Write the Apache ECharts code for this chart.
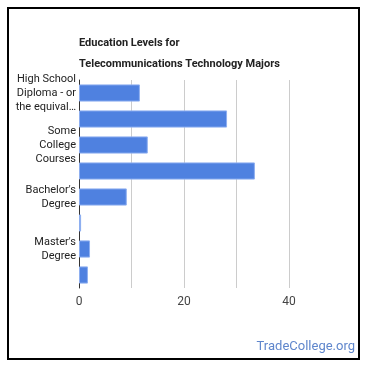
<!DOCTYPE html>
<html>
<head>
<meta charset="utf-8">
<script src="https://cdn.jsdelivr.net/npm/echarts@6/dist/echarts.min.js"></script>
<style>html,body{margin:0;padding:0;background:#fff;}#c{width:370px;height:370px;}</style>
</head>
<body>
<div id="c"></div>
<script>
const titleLines = ["Education Levels for", "Telecommunications Technology Majors"];
const categories = ["High School\nDiploma - or\nthe equival…", "", "Some\nCollege\nCourses", "", "Bachelor's\nDegree", "", "Master's\nDegree", ""];
const values = [11.6, 28.2, 13.1, 33.5, 9.1, 0.4, 2.1, 1.7];
const xTicks = [0, 20, 40];
const watermark = "TradeCollege.org";

const chart = echarts.init(document.getElementById('c'), null, {renderer: 'canvas'});
chart.setOption({
  animation: false,
  backgroundColor: '#fff',
  title: {
    text: titleLines.join('\n'),
    left: 79, top: 33, padding: 0,
    textStyle: {fontFamily: 'Roboto', fontSize: 11, fontWeight: 'bold', color: '#222', lineHeight: 21}
  },
  grid: {left: 79, right: 81, top: 80, bottom: 82, containLabel: false},
  xAxis: {
    type: 'value', min: 0, max: 40, interval: 10,
    axisLine: {show: false}, axisTick: {show: false},
    splitLine: {show: true, lineStyle: {color: '#cccccc', width: 1}},
    axisLabel: {
      color: '#444', fontFamily: 'Roboto', fontSize: 12, margin: 8,
      formatter: v => xTicks.includes(v) ? String(v) : ''
    }
  },
  yAxis: {
    type: 'category', inverse: true,
    data: categories.map((c, i) => String(i)),
    axisLine: {show: true, lineStyle: {color: '#333', width: 1}},
    axisTick: {show: false},
    axisLabel: {
      color: '#222', fontFamily: 'Roboto', fontSize: 11, lineHeight: 14, margin: 3, align: 'right',
      interval: 0,
      formatter: (v, i) => categories[i]
    }
  },
  series: [{
    type: 'bar',
    data: values,
    barCategoryGap: '34%',
    itemStyle: {color: '#4f81e0', borderColor: '#8eaff0', borderWidth: 1}
  }],
  graphic: [
    {type: 'rect', shape: {x: 8, y: 8, width: 351, height: 351}, style: {fill: 'none', stroke: '#000', lineWidth: 2}, z: 100},
    {type: 'text', right: 15, top: 340, style: {text: watermark, fontFamily: 'Roboto', fontSize: 13, fill: '#5f86cc'}}
  ]
});
</script>
</body>
</html>
